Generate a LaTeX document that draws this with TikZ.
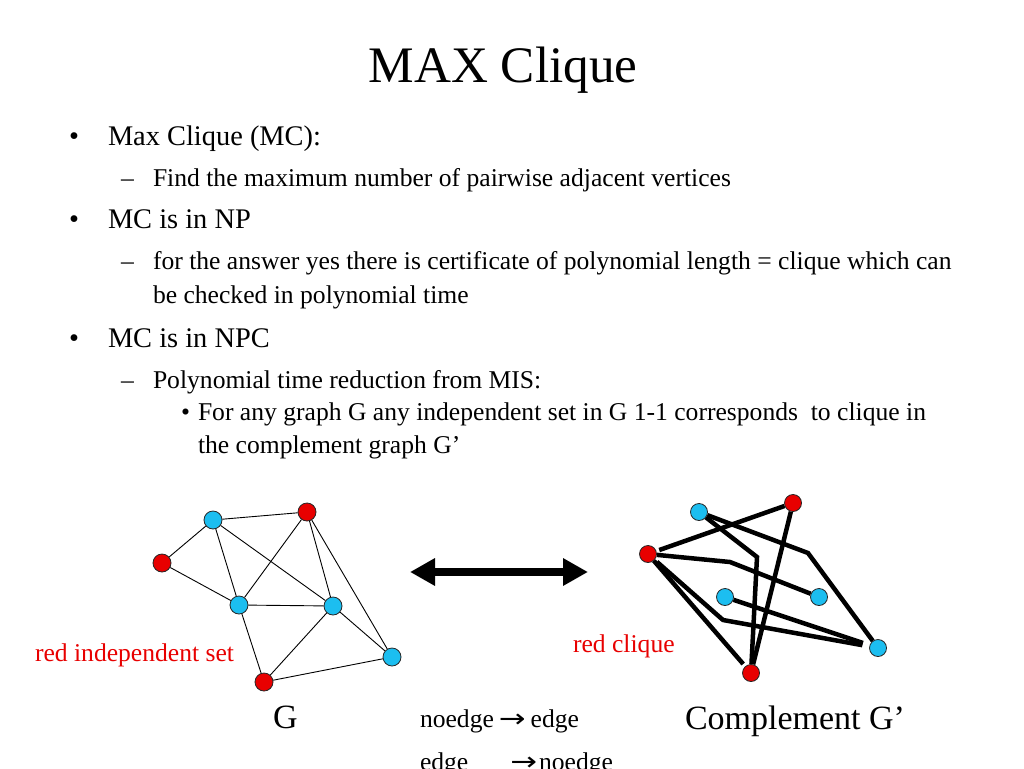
\documentclass[tikz,border=0pt]{standalone}
\usepackage{fontspec}
\setmainfont{Liberation Serif}
\newfontfamily\arrfont{DejaVu Sans}
\usepackage{graphicx}
\usetikzlibrary{arrows.meta}
\definecolor{nodeblue}{RGB}{28,190,240}
\definecolor{nodered}{RGB}{232,0,0}
\definecolor{txtred}{RGB}{232,0,0}
\newcommand\myarr{\scalebox{1.25}[1]{\arrfont →}}
\begin{document}
\begin{tikzpicture}[x=1pt,y=-1pt,
  txt/.style={anchor=base west,inner sep=0pt,outer sep=0pt},
  lone/.style={txt,font=\fontsize{28.4}{34}\selectfont},
  ltwo/.style={txt,font=\fontsize{25.6}{31}\selectfont},
  big/.style={txt,font=\fontsize{34}{40}\selectfont},
  vb/.style={circle,draw=black!85,line width=0.8pt,fill=nodeblue,minimum size=18pt,inner sep=0pt},
  vr/.style={vb,fill=nodered},
  wb/.style={vb,minimum size=17pt},
  wr/.style={vr,minimum size=17pt},
  thinedge/.style={line width=0.9pt},
  thickedge/.style={line width=4.5pt},
  dblarrow/.style={line width=8pt,{Triangle[length=25pt,width=26pt]}-{Triangle[length=25pt,width=26pt]}},
]
\useasboundingbox (0,0) rectangle (1024,768);
\clip (0,0) rectangle (1024,768);
\fill[white] (0,0) rectangle (1024,768);

% title
\node[anchor=base,inner sep=0pt,font=\fontsize{51.2}{60}\selectfont] (title) at (503,82) {MAX Clique};

% bullet text
\node[lone] (b1) at (69,145) {•};
\node[lone] (t1) at (108,145) {Max Clique (MC):};
\node[ltwo] (d1) at (121,186) {–};
\node[ltwo] (t2) at (153,186) {Find the maximum number of pairwise adjacent vertices};
\node[lone] (b2) at (69,228) {•};
\node[lone] (t3) at (108,228) {MC is in NP};
\node[ltwo] (d2) at (121,269) {–};
\node[ltwo] (t4) at (153,269) {for the answer yes there is certificate of polynomial length = clique which can};
\node[ltwo] (t5) at (153,303) {be checked in polynomial time};
\node[lone] (b3) at (69,347) {•};
\node[lone] (t6) at (108,347) {MC is in NPC};
\node[ltwo] (d3) at (121,388) {–};
\node[ltwo] (t7) at (153,388) {Polynomial time reduction from MIS:};
\node[ltwo] (b4) at (181,420) {•};
\node[ltwo] (t8) at (198,420) {For any graph G any independent set in G 1-1 corresponds\ \ to clique in};
\node[ltwo] (t9) at (198,453) {the complement graph G’};

% left graph G
\node[vb] (A) at (213,520) {};
\node[vr] (B) at (307,512) {};
\node[vr] (C) at (162,563) {};
\node[vb] (D) at (239,605) {};
\node[vb] (E) at (333,606) {};
\node[vb] (F) at (392,657) {};
\node[vr] (H) at (264,682) {};
\draw[thinedge] (A) -- (B);
\draw[thinedge] (A) -- (C);
\draw[thinedge] (A) -- (D);
\draw[thinedge] (A) -- (E);
\draw[thinedge] (C) -- (D);
\draw[thinedge] (B) -- (D);
\draw[thinedge] (B) -- (E);
\draw[thinedge] (B) -- (F);
\draw[thinedge] (D) -- (E);
\draw[thinedge] (D) -- (H);
\draw[thinedge] (E) -- (H);
\draw[thinedge] (E) -- (F);
\draw[thinedge] (H) -- (F);

% double arrow
\coordinate (al) at (410,572);
\coordinate (ar) at (588,572);
\draw[dblarrow] (al) -- (ar);

% right graph G'
\node[wb] (P) at (699,512) {};
\node[wr] (Q) at (793,503) {};
\node[wr] (R) at (648,554) {};
\node[wb] (S) at (725,597) {};
\node[wb] (T) at (819,597) {};
\node[wb] (U) at (878,648) {};
\node[wr] (V) at (751,673) {};
\coordinate (k1) at (757,557);
\coordinate (k2) at (808,553);
\coordinate (k3) at (730,562);
\coordinate (k4) at (723,620);
\draw[thickedge,shorten <=3pt] (R) -- (Q);
\draw[thickedge] (P) -- (k1) -- (V);
\draw[thickedge] (P) -- (k2) -- (U);
\draw[thickedge] (Q) -- (V);
\draw[thickedge] (R) -- (k3) -- (T);
\draw[thickedge,shorten >=7pt] (S) -- (U);
\draw[thickedge,shorten <=3pt,shorten >=7pt] (R) -- (k4) -- (U);
\draw[thickedge,shorten >=3pt] (R) -- (V);

% labels
\node[ltwo,text=txtred] (lis) at (35,661) {red independent set};
\node[ltwo,text=txtred] (lcl) at (573,652) {red clique};
\node[big] (lG) at (273,728) {G};
\node[big] (lGc) at (685,729) {Complement G’};
\node[ltwo] (ne1) at (420,727) {noedge\hspace{5pt}\myarr\hspace{5pt}edge};
\node[ltwo] (ne2) at (420,770) {edge\hspace{42pt}\myarr\hspace{2pt}noedge};
\end{tikzpicture}
\end{document}
